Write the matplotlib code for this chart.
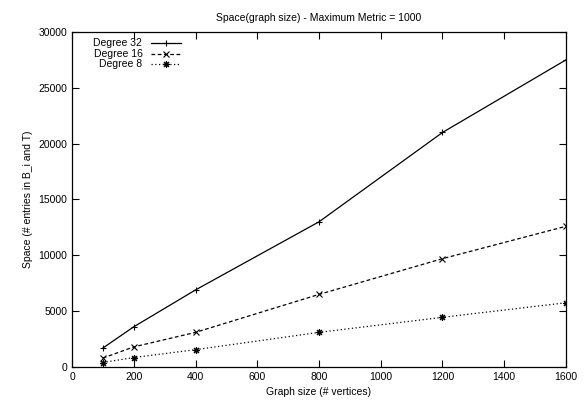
import matplotlib
matplotlib.use("Agg")
import matplotlib.pyplot as plt

plt.rcParams['font.family'] = ['Liberation Sans', 'DejaVu Sans']
plt.rcParams['font.size'] = 7.5

sizes = [100, 200, 400, 800, 1200, 1600]
deg32 = [1700, 3600, 6900, 13000, 21000, 27500]
deg16 = [800, 1800, 3100, 6500, 9700, 12600]
deg8 = [400, 850, 1550, 3100, 4450, 5750]
labels = ['Degree 32', 'Degree 16', 'Degree 8']

fig = plt.figure(figsize=(5.87, 4.04), dpi=100)
ax = fig.add_axes([0.1227, 0.0916, 0.8415, 0.8293])

l1, = ax.plot(sizes, deg32, color='black', lw=0.9, ls='-', marker='+', ms=5, mew=0.8)
l2, = ax.plot(sizes, deg16, color='black', lw=0.9, ls=(0, (3, 2)), marker='x', ms=4, mew=0.8)
l3, = ax.plot(sizes, deg8, color='black', lw=0.9, ls=(0, (1, 2)), marker=(8, 2, 0), ms=5, mew=0.8)

ax.set_xlim(0, 1600)
ax.set_ylim(0, 30000)
ax.set_xticks(range(0, 1601, 200))
ax.set_yticks(range(0, 30001, 5000))
ax.tick_params(direction='in', top=True, right=True, length=5, width=0.8)
for s in ax.spines.values():
    s.set_linewidth(0.9)

ax.set_title('Space(graph size) - Maximum Metric = 1000', fontsize=7.5, pad=8)
ax.set_xlabel('Graph size (# vertices)')
ax.set_ylabel('Space (# entries in B_i and T)')

# gnuplot style key: labels right-aligned, sample to the right
leg = ax.legend([l1, l2, l3], ['', '', ''], loc='upper left', frameon=False,
                handlelength=2.9, handletextpad=0, labelspacing=0.05,
                bbox_to_anchor=(0.152, 0.992), borderaxespad=0)
fig.canvas.draw()
inv = fig.transFigure.inverted()
for line, lab in zip(leg.get_lines(), labels):
    bb = line.get_window_extent(fig.canvas.get_renderer())
    x0, y0 = inv.transform((bb.x0 - 6, (bb.y0 + bb.y1) / 2))
    fig.text(x0, y0, lab, ha='right', va='center', fontsize=7.5)

fig.savefig('out.png', dpi=100)
